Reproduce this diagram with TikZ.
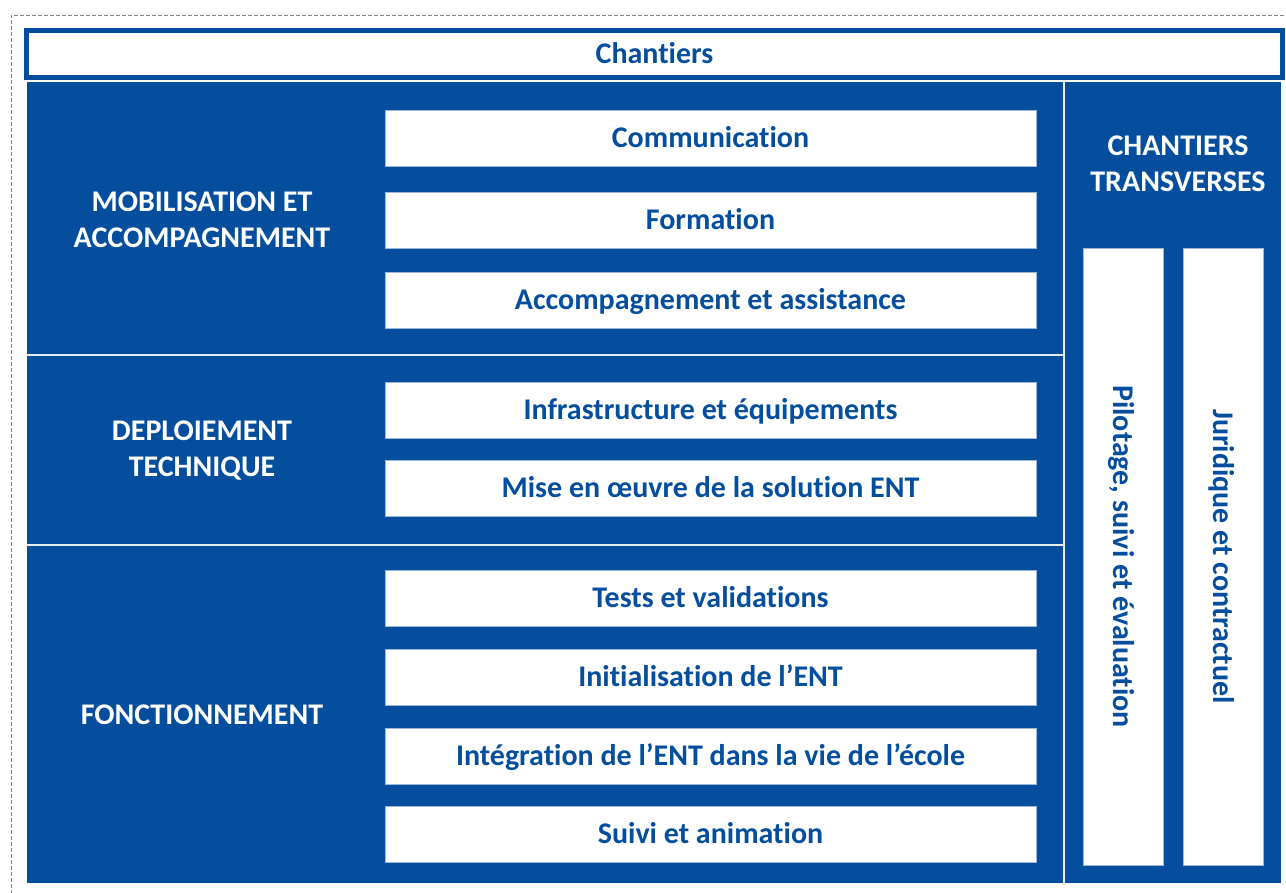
\documentclass[tikz,border=0pt]{standalone}
\usepackage{fontspec}
\setmainfont[Ligatures=NoCommon]{Carlito}
\definecolor{entblue}{RGB}{5,78,158}
\definecolor{dashgrey}{RGB}{130,130,130}
\begin{document}
\begin{tikzpicture}[x=1pt,y=-1pt,
  txt/.style={font=\fontsize{30}{36}\selectfont\bfseries},
  wbox/.style={fill=white, draw=entblue!40, line width=0.6pt, inner sep=0pt, txt, text=entblue},
  lbox/.style={wbox, minimum width=651pt, minimum height=56pt, text height=24pt, text depth=5.4pt},
  vbox/.style={wbox, minimum width=80pt, minimum height=617pt},
  grouplabel/.style={text=white, align=center, txt},
  vtext/.style={rotate=-90, text=entblue, txt, text height=24pt, text depth=5.4pt},
  divider/.style={draw=white!90!entblue, line width=2pt}]
\useasboundingbox (0,0) rectangle (1286,893);
\fill[white] (0,0) rectangle (1286,893);
% dashed frame
\draw[dashgrey, dash pattern=on 4pt off 2pt, line width=0.9pt] (1290,15) -- (11,15) -- (11,900);
% header
\node[draw=entblue, line width=5pt, fill=white, minimum width=1256pt, minimum height=47pt,
  inner sep=0pt, txt, text=entblue, text height=24pt, text depth=5.4pt] (head) at (654.5,54) {Chantiers};
% main blue area
\node[fill=entblue, minimum width=1254pt, minimum height=801pt, inner sep=0pt] (main) at (654,482.5) {};
\coordinate (vtop) at (1064,82);
\coordinate (vbot) at (1064,883);
\coordinate (h1l) at (27,355);
\coordinate (h1r) at (1064,355);
\coordinate (h2l) at (27,545);
\coordinate (h2r) at (1064,545);
\draw[divider] (vtop) -- (vbot);
\draw[divider] (h1l) -- (h1r);
\draw[divider] (h2l) -- (h2r);
% group labels
\node[grouplabel] (g1) at (202,220) {MOBILISATION ET\\ACCOMPAGNEMENT};
\node[grouplabel] (g2) at (202,451) {DEPLOIEMENT\\TECHNIQUE};
\node[grouplabel] (g3) at (202,715) {FONCTIONNEMENT};
\node[grouplabel] (g4) at (1178,164) {CHANTIERS\\TRANSVERSES};
% left boxes
\node[lbox] (b1) at (710.5,138) {Communication};
\node[lbox] (b2) at (710.5,220) {Formation};
\node[lbox] (b3) at (710.5,300) {Accompagnement et assistance};
\node[lbox] (b4) at (710.5,410.5) {Infrastructure et équipements};
\node[lbox] (b5) at (710.5,488.5) {Mise en œuvre de la solution ENT};
\node[lbox] (b6) at (710.5,598) {Tests et validations};
\node[lbox] (b7) at (710.5,677) {Initialisation de l’ENT};
\node[lbox] (b8) at (710.5,756) {Intégration de l’ENT dans la vie de l’école};
\node[lbox] (b9) at (710.5,834.5) {Suivi et animation};
% vertical boxes
\node[vbox] (v1) at (1123,556.5) {};
\node[vbox] (v2) at (1223,556.5) {};
\node[vtext] (t1) at (v1.center) {Pilotage, suivi et évaluation};
\node[vtext] (t2) at (v2.center) {Juridique et contractuel};
\end{tikzpicture}
\end{document}
